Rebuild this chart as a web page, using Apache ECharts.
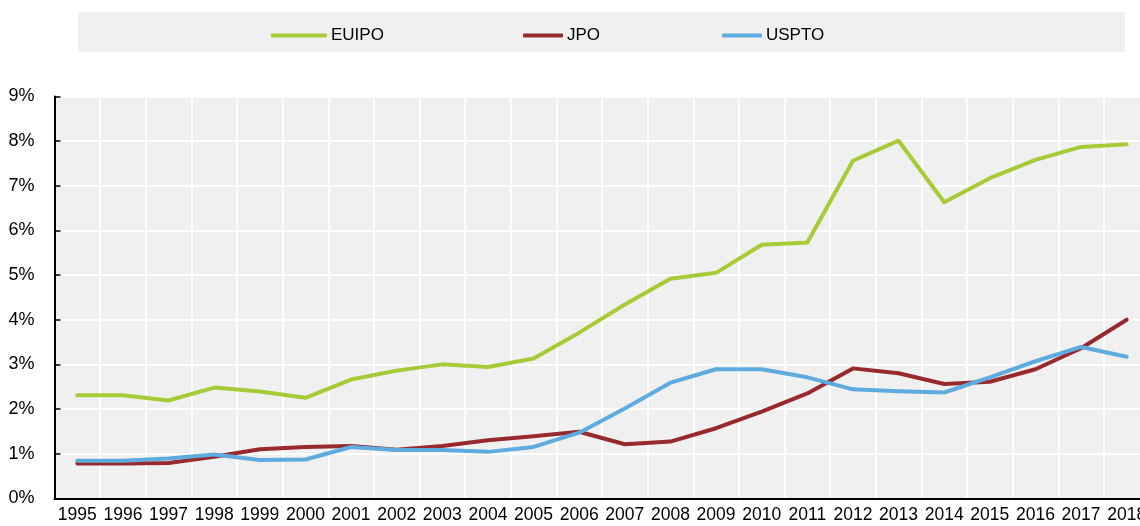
<!DOCTYPE html>
<html>
<head>
<meta charset="utf-8">
<script src="https://cdn.jsdelivr.net/npm/echarts@6/dist/echarts.min.js"></script>
<style>
	html, body { margin: 0; padding: 0; background: #fff; }
	#chart { width: 1140px; height: 526px; }
</style>
</head>
<body>
<div id="chart"></div>
<script>
// Data
var years = ['1995', '1996', '1997', '1998', '1999', '2000', '2001', '2002', '2003', '2004', '2005', '2006',
	'2007', '2008', '2009', '2010', '2011', '2012', '2013', '2014', '2015', '2016', '2017', '2018']
var euipo = [2.31, 2.31, 2.19, 2.48, 2.39, 2.25, 2.66, 2.86, 3.0, 2.94, 3.13, 3.71,
	4.34, 4.92, 5.05, 5.68, 5.73, 7.56, 8.01, 6.63, 7.17, 7.58, 7.87, 7.93]
var jpo = [0.78, 0.78, 0.79, 0.93, 1.1, 1.15, 1.17, 1.09, 1.17, 1.3, 1.39, 1.49,
	1.21, 1.27, 1.57, 1.94, 2.35, 2.91, 2.8, 2.56, 2.61, 2.89, 3.36, 4.0]
var uspto = [0.84, 0.84, 0.89, 0.98, 0.86, 0.87, 1.15, 1.08, 1.08, 1.04, 1.15, 1.47,
	2.01, 2.59, 2.89, 2.89, 2.71, 2.44, 2.4, 2.37, 2.71, 3.07, 3.39, 3.17]
var yTicks = [0, 1, 2, 3, 4, 5, 6, 7, 8, 9]

var FONT = '"Liberation Sans", Arial, sans-serif'
var colors = { EUIPO: '#a6cb36', JPO: '#982a2e', USPTO: '#5eabe0' }

$chart = echarts.init(document.getElementById('chart'), null, { renderer: 'canvas' })

// one legend per item so each sits where the reference puts it
legendAt = (name, left, width) => {
	return {
		data: [name],
		left: left,
		top: 22,
		itemWidth: width,
		itemHeight: 4,
		itemGap: 4,
		icon: 'roundRect',
		textStyle: { fontFamily: FONT, fontSize: 17, color: '#000', padding: [0, 0, 0, -1] },
		selectedMode: false,
	}
}

lineSeries = (name, values) => {
	return {
		name: name,
		type: 'line',
		data: values,
		symbol: 'none',
		lineStyle: { width: 4, color: colors[name], cap: 'round', join: 'round' },
		itemStyle: { color: colors[name] },
	}
}

var option = {
	animation: false,
	graphic: [
		{
			type: 'rect',
			left: 78,
			top: 12,
			shape: { width: 1047, height: 40 },
			style: { fill: '#f0f0f0' },
			z: -10,
		},
	],
	legend: [legendAt('EUIPO', 266, 56), legendAt('JPO', 518, 40), legendAt('USPTO', 717, 40)],
	// the plot runs a little past the right edge of the picture, as in the reference
	grid: {
		left: 54.5,
		width: 1095,
		top: 96.5,
		bottom: 27.7,
		outerBoundsMode: 'none',
		show: true,
		backgroundColor: '#f0f0f0',
		borderWidth: 0,
	},
	xAxis: {
		type: 'category',
		data: years,
		boundaryGap: true,
		axisLine: { lineStyle: { color: '#000', width: 2 } },
		axisTick: { inside: true, length: 6, lineStyle: { color: '#000', width: 1.5 } },
		axisLabel: { interval: 0, fontFamily: FONT, fontSize: 17.5, color: '#000', margin: 8 },
		splitLine: { show: true, interval: 0, lineStyle: { color: '#fff', width: 2 } },
	},
	yAxis: {
		type: 'value',
		min: 0,
		max: 9,
		interval: 1,
		axisLine: { show: true, lineStyle: { color: '#000', width: 2 } },
		axisTick: { show: true, inside: true, length: 6, lineStyle: { color: '#000', width: 1.5 } },
		axisLabel: {
			fontFamily: FONT,
			fontSize: 18,
			color: '#000',
			margin: 20,
			formatter: (v) => (yTicks.indexOf(v) >= 0 ? v + '%' : ''),
		},
		splitLine: { show: true, lineStyle: { color: '#fff', width: 2 } },
	},
	series: [lineSeries('EUIPO', euipo), lineSeries('JPO', jpo), lineSeries('USPTO', uspto)],
}

$chart.setOption(option)
</script>
</body>
</html>
